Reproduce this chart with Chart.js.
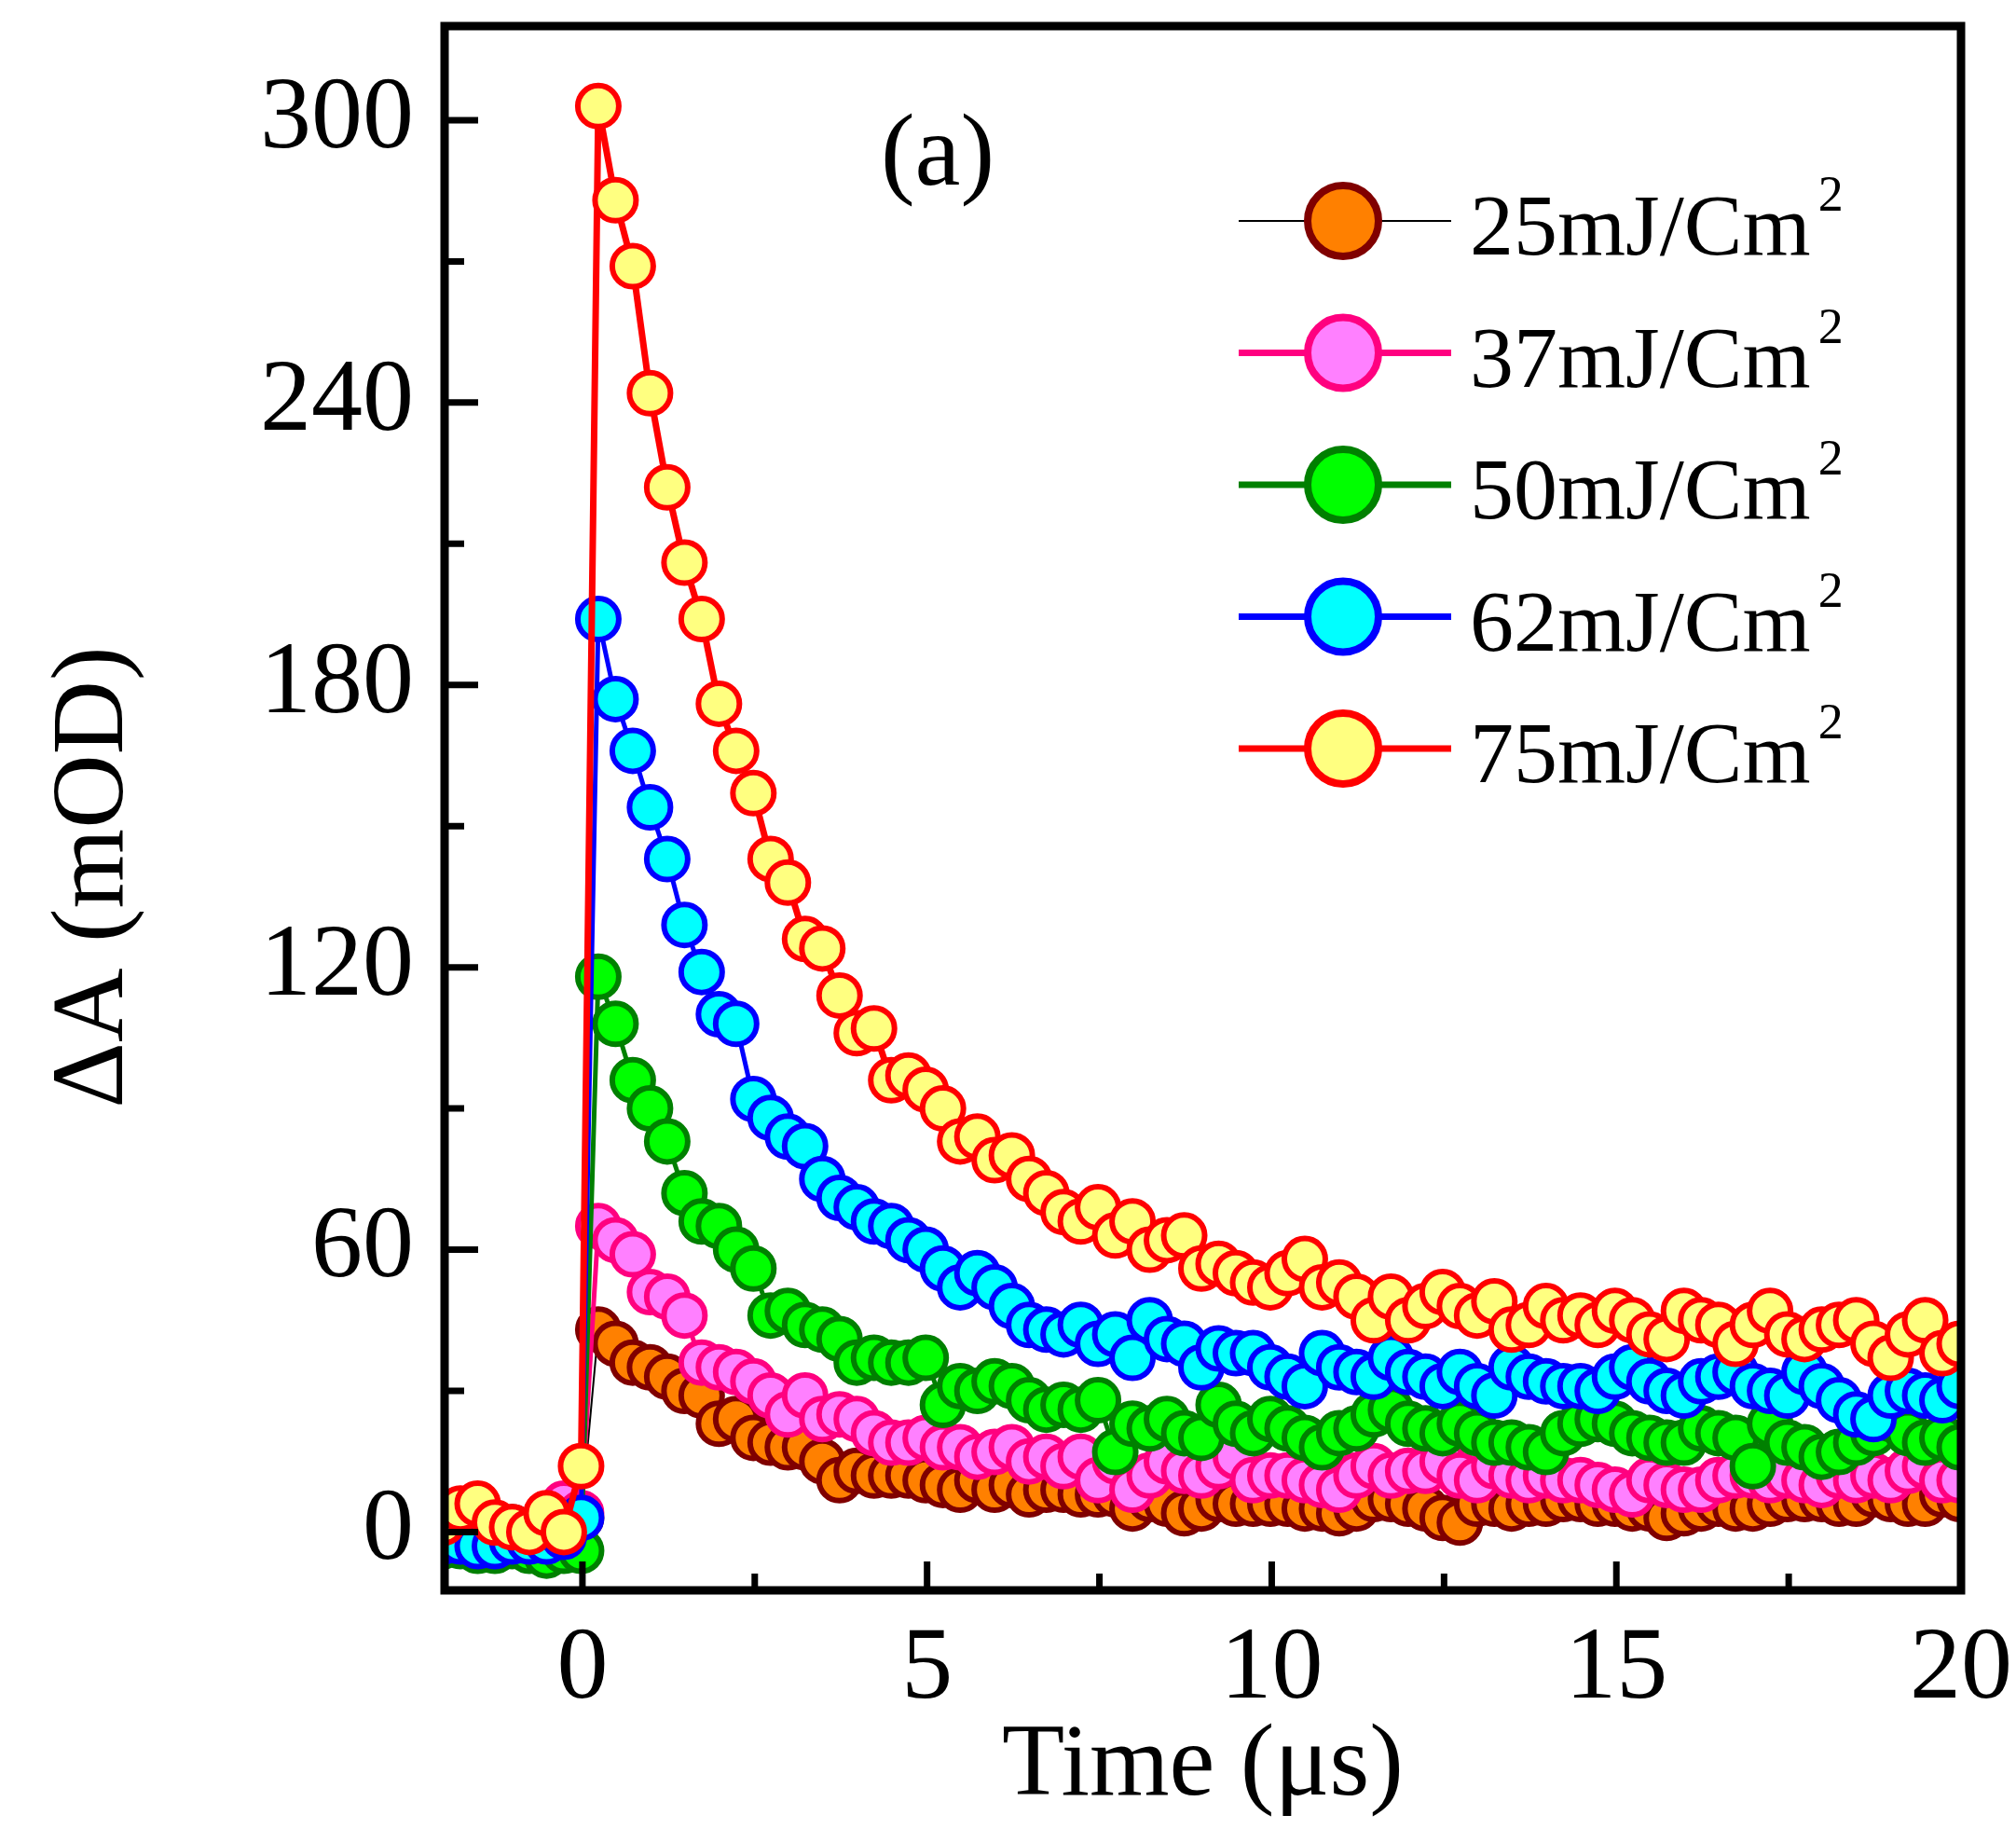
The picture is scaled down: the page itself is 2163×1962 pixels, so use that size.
<!DOCTYPE html>
<html>
<head>
<meta charset="UTF-8" />
<script src="https://cdn.jsdelivr.net/npm/chart.js"></script>
<style>
  body, html { margin: 0; padding: 0; background: #ffffff; }
  #wrap { width: 2163px; height: 1962px; }
</style>
</head>
<body>
<div id="wrap"><canvas id="myChart"></canvas></div>
<script>
// time axis (µs), one marker every 0.25 µs
const time = [
  -2.02, -1.77, -1.52, -1.27, -1.02, -0.77, -0.52, -0.27, -0.02, 0.23,
  0.48, 0.73, 0.98, 1.23, 1.48, 1.73, 1.98, 2.23, 2.48, 2.73,
  2.98, 3.23, 3.48, 3.73, 3.98, 4.23, 4.48, 4.73, 4.98, 5.23,
  5.48, 5.73, 5.98, 6.23, 6.48, 6.73, 6.98, 7.23, 7.48, 7.73,
  7.98, 8.23, 8.48, 8.73, 8.98, 9.23, 9.48, 9.73, 9.98, 10.23,
  10.48, 10.73, 10.98, 11.23, 11.48, 11.73, 11.98, 12.23, 12.48, 12.73,
  12.98, 13.23, 13.48, 13.73, 13.98, 14.23, 14.48, 14.73, 14.98, 15.23,
  15.48, 15.73, 15.98, 16.23, 16.48, 16.73, 16.98, 17.23, 17.48, 17.73,
  17.98, 18.23, 18.48, 18.73, 18.98, 19.23, 19.48, 19.73, 19.98
];

// ΔA (mOD) for each fluence
const dA25 = [
  -2, 0, 1, 0, 1, 0, 1, 2, 3, 43,
  40, 36, 35, 33, 30, 29, 23, 24, 20, 19,
  18, 18, 15, 11, 13, 12, 12, 12, 11, 10,
  9, 11, 9, 10, 8, 9, 9, 8, 8, 8,
  5, 7, 6, 4, 5, 7, 6, 6, 6, 6,
  5, 5, 4, 5, 7, 7, 6, 5, 3, 2,
  6, 6, 5, 6, 6, 7, 7, 6, 6, 5,
  5, 3, 4, 5, 6, 5, 5, 6, 7, 7,
  7, 6, 6, 8, 7, 6, 6, 8, 7
];
const dA37 = [
  -1, 0, -1, -2, -2, -1, 0, 6, 4, 65,
  62, 59, 51, 50, 46, 36, 35, 34, 32, 29,
  25, 29, 24, 25, 24, 21, 19, 19, 20, 18,
  18, 16, 17, 18, 15, 16, 14, 16, 11, 15,
  9, 12, 15, 13, 12, 14, 16, 11, 12, 12,
  11, 10, 9, 12, 14, 12, 13, 13, 15, 12,
  11, 14, 12, 11, 12, 11, 11, 10, 9, 8,
  11, 10, 9, 9, 11, 12, 12, 11, 12, 11,
  10, 12, 11, 12, 11, 13, 14, 11, 11
];
const dA50 = [
  -3, -3, -4, -4, -3, -4, -5, -4, -4, 118,
  108, 96, 90, 83, 72, 66, 65, 60, 56, 46,
  47, 44, 43, 41, 36, 37, 36, 36, 37, 27,
  31, 30, 32, 31, 28, 26, 27, 26, 28, 17,
  23, 22, 24, 21, 20, 27, 23, 21, 24, 22,
  20, 18, 21, 22, 25, 26, 23, 22, 21, 23,
  21, 19, 19, 18, 17, 21, 23, 24, 23, 21,
  20, 19, 19, 22, 21, 20, 14, 23, 19, 18,
  16, 17, 19, 21, 24, 21, 19, 20, 18
];
const dA62 = [
  -2, -2, -3, -3, -2, -2, -2, -1, 3, 194,
  177, 166, 154, 143, 129, 119, 110, 108, 92, 88,
  84, 82, 75, 71, 69, 66, 65, 62, 60, 56,
  52, 55, 52, 48, 44, 43, 42, 44, 40, 42,
  37, 45, 41, 40, 35, 39, 38, 38, 35, 33,
  31, 38, 35, 34, 33, 37, 34, 33, 31, 34,
  31, 29, 35, 33, 32, 31, 31, 30, 33, 35,
  32, 30, 29, 32, 33, 34, 31, 30, 29, 34,
  31, 28, 25, 24, 29, 30, 29, 28, 31
];
const dA75 = [
  2, 5, 6, 2, 1, 0, 4, 0, 14, 303,
  283, 269, 242, 222, 206, 194, 176, 166, 157, 143,
  138, 126, 124, 114, 106, 107, 96, 97, 94, 90,
  83, 84, 79, 80, 75, 72, 68, 66, 69, 63,
  66, 60, 62, 63, 56, 57, 55, 53, 52, 55,
  58, 52, 53, 50, 45, 50, 45, 48, 51, 48,
  46, 49, 43, 44, 48, 45, 46, 44, 47, 45,
  42, 41, 47, 45, 44, 40, 44, 47, 42, 41,
  43, 44, 45, 40, 37, 42, 45, 38, 40
];

const seriesNames = ['25mJ/Cm²', '37mJ/Cm²', '50mJ/Cm²', '62mJ/Cm²', '75mJ/Cm²'];
const xTicks = [0, 5, 10, 15, 20];
const yTicks = [0, 60, 120, 180, 240, 300];
const xTitle = 'Time (μs)';
const yTitle = 'ΔA (mOD)';

const FONT = "'Liberation Serif', 'Times New Roman', serif";

const styles = [
  { line: '#000000', edge: '#800000', fill: '#FF8000', width: 2 },
  { line: '#FF0080', edge: '#FF0080', fill: '#FF80FF', width: 5 },
  { line: '#008000', edge: '#008000', fill: '#00FF00', width: 5 },
  { line: '#0000FF', edge: '#0000FF', fill: '#00FFFF', width: 5 },
  { line: '#FF0000', edge: '#FF0000', fill: '#FFFF80', width: 7 }
];
const allSeries = [dA25, dA37, dA50, dA62, dA75];

const datasets = allSeries.map((vals, i) => ({
  label: seriesNames[i],
  data: time.map((t, k) => ({ x: t, y: vals[k] })),
  borderColor: styles[i].line,
  borderWidth: styles[i].width,
  pointBackgroundColor: styles[i].fill,
  pointBorderColor: styles[i].edge,
  pointBorderWidth: 6,
  pointRadius: 22,
  tension: 0,
  order: 5 - i
}));

function mids(arr) {
  const out = [];
  for (let i = 0; i < arr.length - 1; i++) out.push((arr[i] + arr[i + 1]) / 2);
  return out;
}

// frame, inward ticks, y title, legend and panel label
const decor = {
  id: 'decor',
  afterDatasetsDraw(chart) {
    const { ctx, chartArea: a, scales: { x, y } } = chart;
    ctx.save();
    ctx.strokeStyle = '#000';
    ctx.lineWidth = 7;
    ctx.beginPath();
    yTicks.forEach(v => { const p = y.getPixelForValue(v); ctx.moveTo(a.left, p); ctx.lineTo(a.left + 36, p); });
    mids(yTicks).forEach(v => { const p = y.getPixelForValue(v); ctx.moveTo(a.left, p); ctx.lineTo(a.left + 21, p); });
    xTicks.forEach(v => { const p = x.getPixelForValue(v); ctx.moveTo(p, a.bottom); ctx.lineTo(p, a.bottom - 31); });
    mids(xTicks).forEach(v => { const p = x.getPixelForValue(v); ctx.moveTo(p, a.bottom); ctx.lineTo(p, a.bottom - 18); });
    ctx.stroke();
    ctx.lineWidth = 9;
    ctx.strokeRect(a.left, a.top, a.right - a.left, a.bottom - a.top);

    ctx.fillStyle = '#000';
    ctx.textBaseline = 'alphabetic';

    // y title (sits a bit below the axis centre in the original)
    ctx.save();
    ctx.translate(131, 941);
    ctx.rotate(-Math.PI / 2);
    ctx.textAlign = 'center';
    ctx.font = '110px ' + FONT;
    ctx.fillText(yTitle, 0, 0);
    ctx.restore();

    // panel label
    ctx.font = '110px ' + FONT;
    ctx.textAlign = 'center';
    ctx.fillText('(a)', 1006, 198);

    // legend
    chart.data.datasets.forEach((ds, i) => {
      const cy = 237 + i * 141.5;
      ctx.strokeStyle = ds.borderColor;
      ctx.lineWidth = i === 0 ? 2 : 7;
      ctx.beginPath();
      ctx.moveTo(1329, cy);
      ctx.lineTo(1557, cy);
      ctx.stroke();
      ctx.beginPath();
      ctx.arc(1441, cy, 38, 0, Math.PI * 2);
      ctx.fillStyle = ds.pointBackgroundColor;
      ctx.fill();
      ctx.lineWidth = 8;
      ctx.strokeStyle = ds.pointBorderColor;
      ctx.stroke();

      const base = ds.label.replace('²', '');
      ctx.fillStyle = '#000';
      ctx.textAlign = 'left';
      ctx.font = '94px ' + FONT;
      ctx.fillText(base, 1577, cy + 36);
      const w = ctx.measureText(base).width;
      ctx.font = '54px ' + FONT;
      ctx.fillText('2', 1577 + w + 8, cy - 11);
    });
    ctx.restore();
  }
};

new Chart(document.getElementById('myChart').getContext('2d'), {
  type: 'line',
  data: { datasets },
  options: {
    responsive: true,
    maintainAspectRatio: false,
    animation: false,
    layout: { padding: { left: 29, right: 59, top: 25, bottom: 0 } },
    plugins: { legend: { display: false }, tooltip: { enabled: false } },
    scales: {
      x: {
        type: 'linear',
        min: -2,
        max: 20,
        afterBuildTicks: s => { s.ticks = xTicks.map(v => ({ value: v })); },
        afterFit: s => { s.height = 1962 - 1706; s.paddingLeft = 0; s.paddingRight = 0; },
        grid: { display: false, drawTicks: false },
        border: { display: false },
        ticks: { autoSkip: false, maxRotation: 0, padding: 20, color: '#000', font: { family: FONT, size: 110 } },
        title: { display: true, text: xTitle, color: '#000', padding: 0, font: { family: FONT, size: 110 } }
      },
      y: {
        min: -12.4,
        max: 320,
        afterBuildTicks: s => { s.ticks = yTicks.map(v => ({ value: v })); },
        afterFit: s => { s.width = 477 - 29; s.paddingTop = 0; s.paddingBottom = 0; },
        grid: { display: false, drawTicks: false },
        border: { display: false },
        ticks: { padding: 33, color: '#000', font: { family: FONT, size: 110 } },
        title: { display: false }
      }
    }
  },
  plugins: [decor]
});
</script>
</body>
</html>
